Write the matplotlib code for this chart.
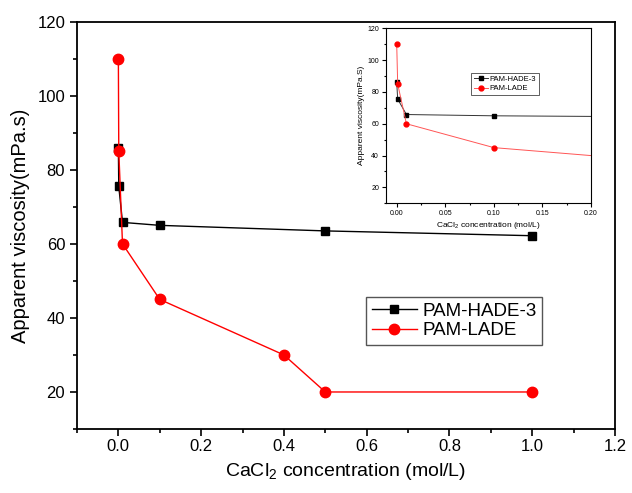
import numpy as np
import matplotlib
matplotlib.use('Agg')
import matplotlib.pyplot as plt
from matplotlib.ticker import MultipleLocator

plt.rcParams['font.family'] = ['Liberation Sans', 'DejaVu Sans']
plt.rcParams['mathtext.default'] = 'regular'

# CaCl2 concentration (mol/L) and apparent viscosity (mPa.s)
conc_hade = [0.0, 0.001, 0.01, 0.1, 0.5, 1.0]
visc_hade = [86, 75.5, 65.8, 65.0, 63.5, 62.2]
conc_lade = [0.0, 0.001, 0.01, 0.1, 0.4, 0.5, 1.0]
visc_lade = [110, 85, 60, 45, 30, 20, 20]

xlabel = 'CaCl$_2$ concentration (mol/L)'

fig = plt.figure(figsize=(6.32, 4.93), dpi=100)

# main plot
ax = fig.add_axes([0.1218, 0.1298, 0.8513, 0.8262])
ax.plot(conc_hade, visc_hade, color='black', marker='s', markersize=6, linewidth=1, label='PAM-HADE-3')
ax.plot(conc_lade, visc_lade, color='red', marker='o', markersize=7.5, linewidth=1, label='PAM-LADE')
ax.set_xlim(-0.1, 1.2)
ax.set_ylim(10, 120)
ax.xaxis.set_major_locator(MultipleLocator(0.2))
ax.xaxis.set_minor_locator(MultipleLocator(0.1))
ax.yaxis.set_major_locator(MultipleLocator(20))
ax.yaxis.set_minor_locator(MultipleLocator(10))
ax.tick_params(which='major', length=5, width=1.2, labelsize=12, direction='out')
ax.tick_params(axis='x', which='major', pad=2)
ax.tick_params(which='minor', length=3, width=1.2, direction='out')
for s in ax.spines.values():
    s.set_linewidth(1.3)
ax.set_ylim(10, 120)
ax.set_yticks([20, 40, 60, 80, 100, 120])
ax.set_xticks([0.0, 0.2, 0.4, 0.6, 0.8, 1.0, 1.2])
ax.set_xlabel(xlabel, fontsize=14, labelpad=5)
ax.set_ylabel('Apparent viscosity(mPa.s)', fontsize=14.5, labelpad=5)
leg = fig.legend(*ax.get_legend_handles_labels(), loc='upper left',
                 bbox_to_anchor=(0.579, 0.398), borderaxespad=0, fontsize=13.5,
                 fancybox=False, framealpha=1, edgecolor='#555555', handlelength=2.4,
                 borderpad=0.3, labelspacing=0.15, handletextpad=0.3)
leg.get_frame().set_linewidth(1)

# inset zoom on low concentrations
ins = fig.add_axes([0.6108, 0.5876, 0.3244, 0.355])
ins.plot(conc_hade, visc_hade, color='#333333', marker='s', markersize=3, markeredgecolor='black',
         markerfacecolor='black', linewidth=0.7, label='PAM-HADE-3')
ins.plot(conc_lade, visc_lade, color='#ff5555', marker='o', markersize=3.5, markeredgecolor='red',
         markerfacecolor='red', linewidth=0.7, label='PAM-LADE')
ins.set_xlim(-0.011, 0.2)
ins.set_ylim(10, 120)
ins.xaxis.set_major_locator(MultipleLocator(0.05))
ins.xaxis.set_minor_locator(MultipleLocator(0.025))
ins.yaxis.set_major_locator(MultipleLocator(20))
ins.yaxis.set_minor_locator(MultipleLocator(10))
ins.xaxis.set_major_formatter(matplotlib.ticker.FormatStrFormatter('%.2f'))
ins.tick_params(which='major', length=3, width=0.8, labelsize=5, direction='out', pad=2)
ins.tick_params(which='minor', length=1.5, width=0.8, direction='out')
for s in ins.spines.values():
    s.set_linewidth(0.8)
ins.set_yticks([20, 40, 60, 80, 100, 120])
ins.set_xlabel(xlabel, fontsize=6, labelpad=2)
ins.set_ylabel('Apparent viscosity(mPa.S)', fontsize=6, labelpad=2)
ileg = ins.legend(loc='upper left', bbox_to_anchor=(0.415, 0.745), borderaxespad=0,
                  fontsize=5.5, fancybox=False, framealpha=1, edgecolor='#444444',
                  handlelength=1.8, borderpad=0.35, labelspacing=0.25, handletextpad=0.3)
ileg.get_frame().set_linewidth(0.6)

fig.savefig('out.png', dpi=100)
